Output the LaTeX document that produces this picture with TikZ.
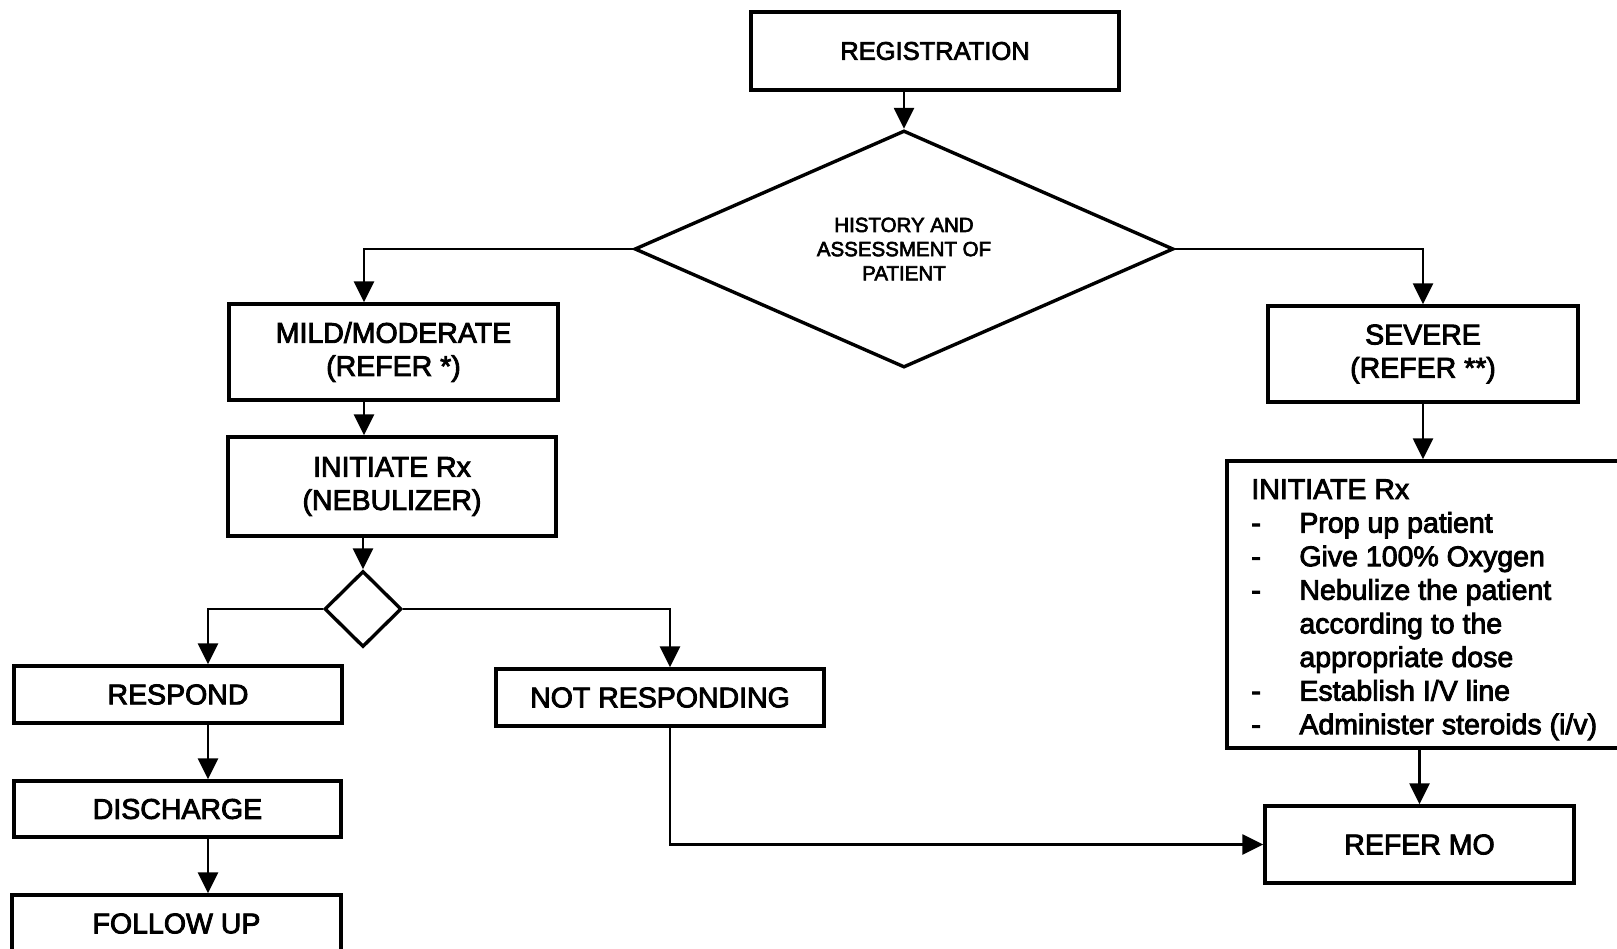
\documentclass[tikz,border=0pt]{standalone}
\usepackage{fontspec}
\setmainfont{Liberation Sans}[FakeBold=3]
\usetikzlibrary{arrows.meta,shapes.geometric}
% one bullet of the treatment list: a dash in a fixed-width column
\newcommand{\rxdash}{\makebox[24pt][l]{-}}
\newcommand{\rxgap}{\hspace*{24pt}}
\begin{document}
\begin{tikzpicture}[x=0.5pt,y=-0.5pt,
  box/.style={draw, rectangle, line width=1.7pt, inner sep=0pt, align=center,
    font=\fontsize{14.25pt}{16.6pt}\selectfont},
  decision/.style={draw, diamond, line width=1.7pt, inner sep=0pt, align=center},
  arr/.style={line width=1.3pt, -{Triangle[length=10.5pt,width=10pt]}}]
\useasboundingbox[fill=white] (0,0) rectangle (1617,948);

% column positions of the vertical connectors
\coordinate (colL) at (364,0);
\coordinate (colR) at (208,0);
\coordinate (colN) at (670,0);

% top of the chart
\node[box, minimum width=184pt, minimum height=39pt,
  font=\fontsize{12.75pt}{15pt}\selectfont] (reg) at (935,51) {REGISTRATION};
\node[decision, minimum width=269.5pt, minimum height=115pt,
  font=\fontsize{10.25pt}{12.1pt}\selectfont] (hd) at (904,249)
  {HISTORY AND\\ASSESSMENT OF\\PATIENT};

% mild / moderate branch
\node[box, minimum width=164.5pt, minimum height=48pt] (mild) at (393.5,352)
  {MILD/MODERATE\\(REFER *)};
\node[box, minimum width=164pt, minimum height=49.5pt] (neb) at (392,486.5)
  {INITIATE Rx\\(NEBULIZER)};
\node[decision, minimum width=38.5pt, minimum height=38pt] (sd) at (363,609) {};
\node[box, minimum width=164pt, minimum height=28.5pt] (resp) at (178,694.5) {RESPOND};
\node[box, minimum width=163.5pt, minimum height=28pt] (dis) at (177.5,809) {DISCHARGE};
\node[box, minimum width=164.5pt, minimum height=28.5pt] (fol) at (176.5,923.5) {FOLLOW UP};
\node[box, minimum width=164pt, minimum height=28.5pt] (nr) at (660,697.5) {NOT RESPONDING};

% severe branch
\node[box, minimum width=155pt, minimum height=48pt] (sev) at (1423,354)
  {SEVERE\\(REFER **)};
\node[box, minimum width=201.5pt, minimum height=143.5pt] (rx) at (1428.5,604.5) {};
\node[anchor=north west, inner sep=0pt, align=left,
  font=\fontsize{14.25pt}{16.8pt}\selectfont] (rxtext) at (1251,479)
  {INITIATE Rx\\
   \rxdash Prop up patient\\
   \rxdash Give 100\% Oxygen\\
   \rxdash Nebulize the patient\\
   \rxgap according to the\\
   \rxgap appropriate dose\\
   \rxdash Establish I/V line\\
   \rxdash Administer steroids (i/v)};
\node[box, minimum width=154.5pt, minimum height=38.5pt] (refer) at (1419.5,844.5) {REFER MO};

% connectors
\draw[arr] (reg.south -| hd.north) -- (hd.north);
\draw[arr] (hd.west) -| (colL |- mild.north);
\draw[arr] (hd.east) -| (sev.north);
\draw[arr] (colL |- mild.south) -- (colL |- neb.north);
\draw[arr] (neb.south -| sd.north) -- (sd.north);
\draw[arr] (sd.west) -| (colR |- resp.north);
\draw[arr] (sd.east) -| (colN |- nr.north);
\draw[arr] (colR |- resp.south) -- (colR |- dis.north);
\draw[arr] (colR |- dis.south) -- (colR |- fol.north);
\draw[arr] (colN |- nr.south) |- (refer.west);
\draw[arr] (sev.south) -- (rx.north -| sev.south);
\draw[arr] (rx.south -| refer.north) -- (refer.north);
\end{tikzpicture}
\end{document}
